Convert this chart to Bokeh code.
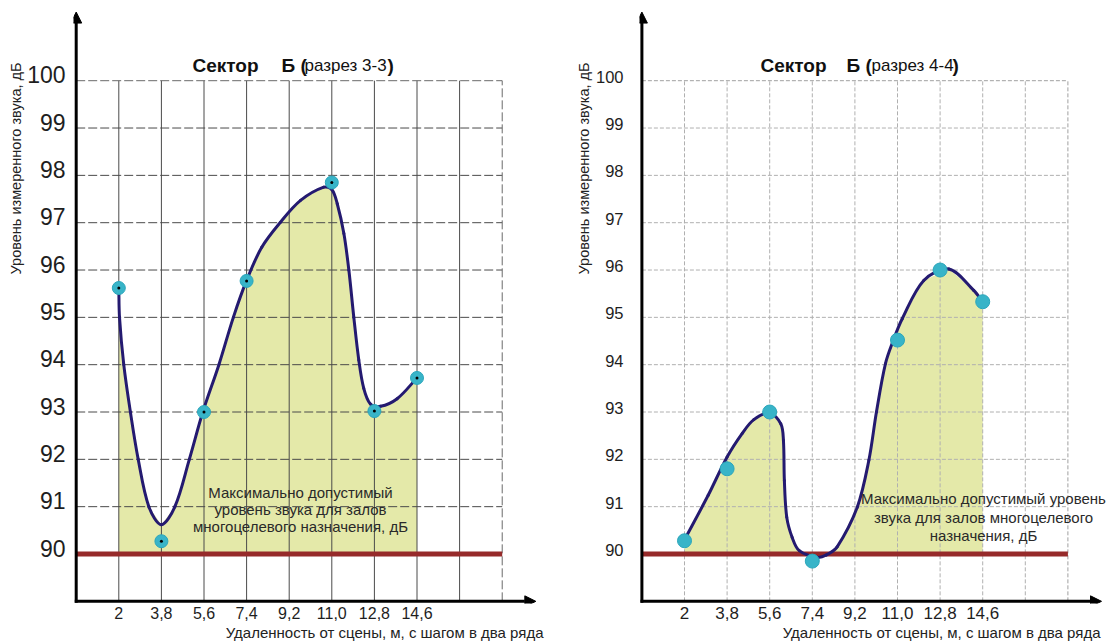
import numpy as np
from bokeh.plotting import figure
from bokeh.layouts import row
from bokeh.models import (FixedTicker, CustomJSTickFormatter, Label, Arrow, Title,
                          NormalHead, ColumnDataSource, Range1d, LinearAxis)
from bokeh.embed import file_html
from bokeh.resources import INLINE

# ---------------- data ----------------
x_vals = [2.0, 3.8, 5.6, 7.4, 9.2, 11.0, 12.8, 14.6]
x_labels = ["2", "3,8", "5,6", "7,4", "9,2", "11,0", "12,8", "14,6"]
grid_x = [2.0, 3.8, 5.6, 7.4, 9.2, 11.0, 12.8, 14.6, 16.4, 18.2]
y_ticks = [90, 91, 92, 93, 94, 95, 96, 97, 98, 99, 100]
grid_y = [91, 92, 93, 94, 95, 96, 97, 98, 99, 100]
limit_db = 90.0
axis_x = 0.2
axis_y = 89.0
arrow_x_end = 19.62
arrow_y_end = 101.45

# measured points
left_pts_x = [2.0, 3.8, 5.6, 7.4, 11.0, 12.8, 14.6]
left_pts_y = [95.62, 90.27, 93.0, 95.77, 97.85, 93.02, 93.72]
right_pts_x = [2.0, 3.8, 5.6, 7.4, 11.0, 12.8, 14.6]
right_pts_y = [90.28, 91.8, 93.0, 89.85, 94.52, 96.0, 95.33]

# hand-drawn smoothed curves
left_curve_x = [2.0, 2.03, 2.21, 2.49, 2.82, 3.27, 3.8, 4.37, 4.98, 5.55, 6.23,
                6.84, 7.4, 8.04, 8.83, 9.68, 10.66, 11.0, 11.23, 11.51, 11.72,
                11.93, 12.14, 12.35, 12.63, 13.06, 13.76, 14.6]
left_curve_y = [95.62, 95.0, 94.0, 93.0, 92.0, 91.0, 90.62, 91.0, 92.0, 93.0, 94.0,
                95.0, 95.78, 96.48, 97.01, 97.47, 97.75, 97.7, 97.4, 96.77, 96.0,
                95.0, 94.1, 93.5, 93.17, 93.12, 93.28, 93.72]
right_curve_x = [2.0, 3.0, 3.8, 4.44, 4.93, 5.6, 6.07, 6.18, 6.22, 6.32, 6.55,
                 6.85, 7.6, 8.0, 8.45, 9.3, 9.79, 10.11, 10.49, 10.82, 11.2,
                 12.11, 13.17, 14.22, 14.6]
right_curve_y = [90.3, 91.24, 92.05, 92.55, 92.84, 92.98, 92.75, 92.4, 91.55, 90.78, 90.35,
                 90.07, 89.93, 89.98, 90.15, 90.99, 91.98, 93.0, 94.02, 94.51, 94.97,
                 95.78, 96.02, 95.57, 95.33]

y_title = "Уровень измеренного звука, дБ"
x_title = "Удаленность от сцены, м, с шагом в два ряда"
note_left = ["Максимально допустимый", "уровень звука для залов",
             "многоцелевого назначения, дБ"]
note_right = ["Максимально допустимый уровень", "звука для залов многоцелевого",
              "назначения, дБ"]
title_left = ["Сектор", "Б (", "разрез 3-3", ")"]
title_right = ["Сектор", "Б (", "разрез 4-4", ")"]

# ---------------- layout constants ----------------
FONT = "Liberation Sans"
SX = 23.667   # px per metre
SY = 47.33    # px per dB
Y90 = 553.5   # page y of 90 dB
H = 641
FRAME_BOTTOM = 603


def bez(xs, ys):
    x = np.asarray(xs, float)
    y = np.asarray(ys, float)
    d = np.hypot(np.diff(x * SX), np.diff(y * SY))
    n = len(x)
    tx = np.empty(n)
    ty = np.empty(n)
    tx[1:-1] = (x[2:] - x[:-2]) / (d[:-1] + d[1:])
    ty[1:-1] = (y[2:] - y[:-2]) / (d[:-1] + d[1:])
    tx[0] = (x[1] - x[0]) / d[0]
    ty[0] = (y[1] - y[0]) / d[0]
    tx[-1] = (x[-1] - x[-2]) / d[-1]
    ty[-1] = (y[-1] - y[-2]) / d[-1]
    return dict(x0=x[:-1], y0=y[:-1], x1=x[1:], y1=y[1:],
                cx0=x[:-1] + tx[:-1] * d / 3, cy0=y[:-1] + ty[:-1] * d / 3,
                cx1=x[1:] - tx[1:] * d / 3, cy1=y[1:] - ty[1:] * d / 3)


def panel(page_left, width, border_left, ref_x2, pts_x, pts_y, cx, cy, style):
    x_start = 2 + (page_left + border_left - ref_x2) / SX
    x_end = 2 + (page_left + width - ref_x2) / SX
    y_start = 90 - (FRAME_BOTTOM - Y90) / SY
    y_end = 90 + Y90 / SY

    def X(r):
        return 2 + (r - ref_x2) / SX

    def Y(r):
        return 90 + (Y90 - r) / SY

    p = figure(width=width, height=H, x_range=Range1d(x_start, x_end),
               y_range=Range1d(y_start, y_end), output_backend="svg",
               toolbar_location=None, y_axis_location=None,
               min_border_left=border_left,
               min_border_right=0, min_border_top=0,
               min_border_bottom=H - FRAME_BOTTOM,
               outline_line_color=None, background_fill_color="white",
               border_fill_color="white")
    p.grid.visible = False

    # y axis (labels only), labels sit slightly above their grid lines
    dl = style["lift"] / SY
    p.extra_y_ranges = {"lab": Range1d(y_start - dl, y_end - dl)}
    yax = LinearAxis(y_range_name="lab", ticker=FixedTicker(ticks=y_ticks, minor_ticks=[]),
                     axis_line_color=None, major_tick_line_color=None,
                     minor_tick_line_color=None, major_tick_out=0,
                     major_label_standoff=style["ystand"],
                     major_label_text_font=FONT,
                     major_label_text_font_size=style["yfs"],
                     major_label_text_color="#1e1e1e")
    p.add_layout(yax, "left")

    p.xaxis.ticker = FixedTicker(ticks=x_vals, minor_ticks=[])
    p.xaxis.formatter = CustomJSTickFormatter(
        args=dict(labels=x_labels, vals=x_vals),
        code="const i = vals.findIndex(v => Math.abs(v - tick) < 1e-6); return i >= 0 ? labels[i] : '';")
    p.xaxis.axis_line_color = None
    p.xaxis.major_tick_line_color = None
    p.xaxis.minor_tick_line_color = None
    p.xaxis.major_tick_out = 0
    p.xaxis.major_label_standoff = 3
    p.xaxis.major_label_text_font = FONT
    p.xaxis.major_label_text_font_size = style["xfs"]
    p.xaxis.major_label_text_color = "#1e1e1e"

    # axis titles as layout titles
    p.add_layout(Title(text=y_title, align="right", offset=62, standoff=2,
                       text_font=FONT, text_font_size="14.5px",
                       text_font_style="normal", text_color="#222222"), "left")
    p.add_layout(Title(text=x_title, align="right", offset=style["xoff"], standoff=0,
                       text_font=FONT, text_font_size="15px",
                       text_font_style="normal", text_color="#222222"), "below")

    # fill under curve
    p.varea(x=cx, y1=limit_db, y2=cy, fill_color="#e4e9a9", fill_alpha=1.0)

    # grid
    gx = grid_x[:-1]
    p.segment(x0=gx, y0=[axis_y] * len(gx), x1=gx, y1=[grid_y[-1]] * len(gx),
              line_color=style["gc"], line_width=1, line_dash=style["vdash"])
    gy = grid_y[:-1]
    p.segment(x0=[axis_x] * len(gy), y0=gy, x1=[grid_x[-1]] * len(gy), y1=gy,
              line_color=style["gc"], line_width=1, line_dash=style["hdash"])
    p.segment(x0=[axis_x, grid_x[-1]], y0=[grid_y[-1], axis_y],
              x1=[grid_x[-1], grid_x[-1]], y1=[grid_y[-1], grid_y[-1]],
              line_color=style["bc"], line_width=1, line_dash=style["hdash"])

    # limit line
    p.segment(x0=[axis_x], y0=[limit_db], x1=[grid_x[-1]], y1=[limit_db],
              line_color="#962a2a", line_width=5)

    # curve
    p.bezier(source=ColumnDataSource(bez(cx, cy)), x0="x0", y0="y0", x1="x1",
             y1="y1", cx0="cx0", cy0="cy0", cx1="cx1", cy1="cy1",
             line_color="#241a70", line_width=3, line_cap="round")

    # points
    p.scatter(pts_x, pts_y, size=style["ms"], fill_color="#38b4c8",
              line_color="#2ba6bb", line_width=1)
    if style["dot"]:
        p.scatter(pts_x, pts_y, size=3, fill_color="black", line_color=None)

    # axis arrows
    p.add_layout(Arrow(end=NormalHead(size=11, fill_color="black", line_color="black"),
                       x_start=axis_x, y_start=axis_y - 0.03, x_end=axis_x,
                       y_end=arrow_y_end, line_width=3, line_color="black"))
    p.add_layout(Arrow(end=NormalHead(size=11, fill_color="black", line_color="black"),
                       x_start=axis_x - 0.06, y_start=axis_y, x_end=arrow_x_end,
                       y_end=axis_y, line_width=3, line_color="black"))

    # chart title
    t = style["title"]
    tx = style["tx"]
    for txt, xr, fs, bold in zip(t, tx, ["19px", "19px", "17px", "19px"],
                                 [True, True, False, True]):
        p.add_layout(Label(x=X(xr), y=Y(65), text=txt, text_font=FONT,
                           text_font_size=fs,
                           text_font_style="bold" if bold else "normal",
                           text_align="left", text_baseline="middle",
                           text_color="#111111"))

    # annotation note
    for txt, yr in zip(style["note"], style["ny"]):
        p.add_layout(Label(x=X(style["nx"]), y=Y(yr), text=txt, text_font=FONT,
                           text_font_size="15px", text_align="center",
                           text_baseline="middle", text_color="#2a2a2a"))
    return p


p1 = panel(0, 568, 73, 118.3, left_pts_x, left_pts_y, left_curve_x, left_curve_y,
           dict(ystand=8, yfs="23px", xfs="16px", gc="#4a4a4a", bc="#6a6a6a",
                vdash="solid", hdash="9 3", ms=13, dot=True, xoff=25, lift=6,
                title=title_left, tx=[192, 281, 304, 387],
                note=note_left, nx=300, ny=[492, 509, 526]))
p2 = panel(568, 541, 71, 684.0, right_pts_x, right_pts_y, right_curve_x, right_curve_y,
           dict(ystand=16, yfs="16.5px", xfs="17px", gc="#b0b0b0", bc="#a0a0a0",
                vdash="4 2", hdash="4 2", ms=14, dot=False, xoff=9, lift=4,
                title=title_right, tx=[760, 846, 871, 952],
                note=note_right, nx=983, ny=[498, 517, 535]))

layout = row(p1, p2)
open("out.html", "w").write(file_html(layout, INLINE))
